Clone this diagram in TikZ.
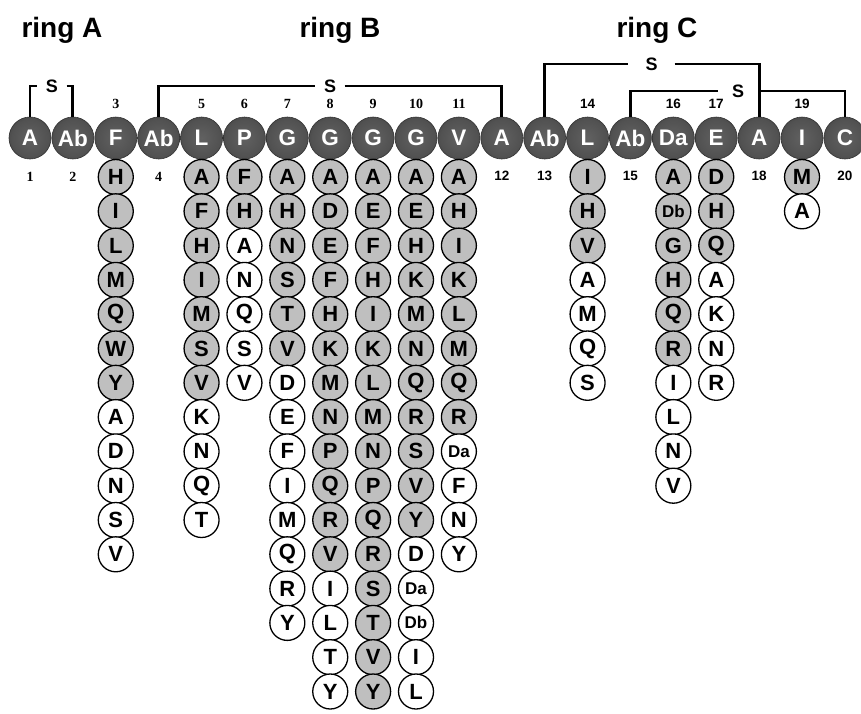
\documentclass[tikz,border=0pt]{standalone}
\usepackage{fontspec}
\setmainfont{Liberation Sans}
\newfontfamily\numfont{Liberation Serif}
\pgfdeclareradialshading{dball}{\pgfpoint{0bp}{0bp}}{color(0bp)=(black!62); color(22bp)=(black!68); color(38bp)=(black!78); color(50bp)=(black!88); color(60bp)=(black!88)}
\begin{document}
\begin{tikzpicture}[x=1pt,y=-1pt,
  ball/.style={circle, minimum size=42pt, inner sep=0pt, shading=dball, draw=black!80, line width=0.6pt, text=white, font=\bfseries\fontsize{22.5}{22.5}\selectfont},
  subg/.style={circle, minimum size=35pt, inner sep=0pt, fill=black!25, draw=black, line width=1.3pt, font=\bfseries\fontsize{22}{22}\selectfont},
  subw/.style={subg, fill=white},
  subgs/.style={subg, font=\bfseries\fontsize{17}{17}\selectfont},
  subws/.style={subw, font=\bfseries\fontsize{17}{17}\selectfont},
  num/.style={font=\numfont\bfseries\fontsize{14}{14}\selectfont, inner sep=1pt},
  nums/.style={font=\bfseries\fontsize{13.5}{13.5}\selectfont, inner sep=1pt},
  ssym/.style={font=\bfseries\fontsize{18}{18}\selectfont, inner ysep=0pt, inner xsep=8.5pt},
  title/.style={font=\bfseries\fontsize{28}{28}\selectfont, anchor=base},
  bond/.style={line width=2.8pt}
]
\useasboundingbox[fill=white] (0,0) rectangle (861,713);

% titles
\node[title] (ringA) at (62,37) {ring A};
\node[title] (ringB) at (340,37) {ring B};
\node[title] (ringC) at (657,37) {ring C};

% top row
\foreach \l [count=\i] in {A,Ab,F,Ab,L,P,G,G,G,G,V,A,Ab,L,Ab,Da,E,A,I,C}
  \node[ball] (t\i) at ({30+(\i-1)*42.89},138) {\l};

% numbers
\foreach \i in {3,5,6,7,8,9,10,11}
  \node[num] (n\i) at ({30+(\i-1)*42.89},104) {\i};
\foreach \i in {14,16,17,19}
  \node[nums] (n\i) at ({30+(\i-1)*42.89},104) {\i};
\foreach \i in {1,2,4}
  \node[num] (n\i) at ({30+(\i-1)*42.89},177) {\i};
\foreach \i in {12,13,15,18,20}
  \node[nums] (n\i) at ({30+(\i-1)*42.89},176) {\i};

% side-chain columns
\foreach \c/\lst in {
  3/{H/g,I/g,L/g,M/g,Q/g,W/g,Y/g,A/w,D/w,N/w,S/w,V/w},
  5/{A/g,F/g,H/g,I/g,M/g,S/g,V/g,K/w,N/w,Q/w,T/w},
  6/{F/g,H/g,A/w,N/w,Q/w,S/w,V/w},
  7/{A/g,H/g,N/g,S/g,T/g,V/g,D/w,E/w,F/w,I/w,M/w,Q/w,R/w,Y/w},
  8/{A/g,D/g,E/g,F/g,H/g,K/g,M/g,N/g,P/g,Q/g,R/g,V/g,I/w,L/w,T/w,Y/w},
  9/{A/g,E/g,F/g,H/g,I/g,K/g,L/g,M/g,N/g,P/g,Q/g,R/g,S/g,T/g,V/g,Y/g},
  10/{A/g,E/g,H/g,K/g,M/g,N/g,Q/g,R/g,S/g,V/g,Y/g,D/w,Da/ws,Db/ws,I/w,L/w},
  11/{A/g,H/g,I/g,K/g,L/g,M/g,Q/g,R/g,Da/ws,F/w,N/w,Y/w},
  14/{I/g,H/g,V/g,A/w,M/w,Q/w,S/w},
  16/{A/g,Db/gs,G/g,H/g,Q/g,R/g,I/w,L/w,N/w,V/w},
  17/{D/g,H/g,Q/g,A/w,K/w,N/w,R/w},
  19/{M/g,A/w}}
{
  \foreach \l/\s [count=\k] in \lst
    \node[sub\s] (c\c-\k) at ({30+(\c-1)*42.89},{177+(\k-1)*34.3}) {\l};
}

% disulfide / thioether bridges
\node[ssym] (sA) at (52,86) {S};
\draw[bond] (t1.north) |- (sA.west);
\draw[bond] (sA.east) -| (t2.north);

\node[ssym] (sB) at (330,86) {S};
\draw[bond] (t4.north) |- (sB.west);
\draw[bond] (sB.east) -| (t12.north);

\node[ssym, inner xsep=17pt] (sC1) at (651.5,64) {S};
\draw[bond] (t13.north) |- (sC1.west);
\draw[bond] (sC1.east) -| (t18.north);

\node[ssym, inner xsep=13.5pt] (sC2) at (738,91) {S};
\draw[bond] (t15.north) |- (sC2.west);
\coordinate (j18) at (t18.north |- sC2.west);
\draw[bond] (j18) -| (t20.north);
\end{tikzpicture}
\end{document}
